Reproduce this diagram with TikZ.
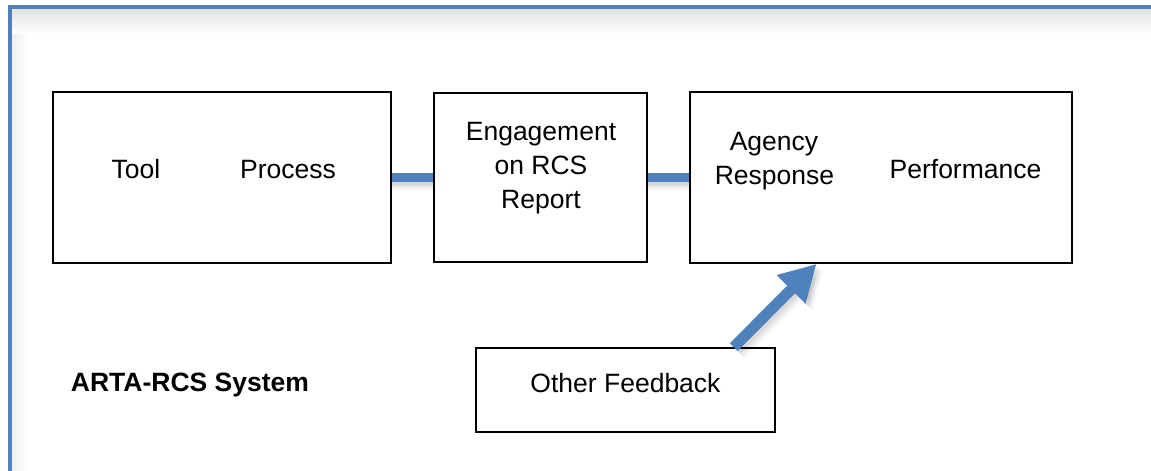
\documentclass[tikz,border=0pt]{standalone}
\usepackage{fontspec}
\setmainfont{Liberation Sans}
\usetikzlibrary{arrows.meta,calc}
\definecolor{frameblue}{RGB}{79,129,189}
\begin{document}
\begin{tikzpicture}[x=1bp,y=-1bp,
  box/.style={draw=black,line width=1.8bp,inner sep=0pt},
  lbl/.style={font=\fontsize{26.5bp}{31bp}\selectfont,inner sep=0pt,anchor=base},
  conn/.style={draw=frameblue,line width=8.5bp},
  connshadow/.style={draw=black,line width=8.5bp,opacity=#1},
  bigarrow/.style={draw=frameblue,line width=11bp,-{Triangle[width=38bp,length=36bp]}},
  arrowshadow/.style={draw=black,line width=11bp,opacity=#1,-{Triangle[width=38bp,length=36bp]}}]
\useasboundingbox (0,0) rectangle (1151,471);

% soft inner shadow of the outer frame
\shade[left color=black!6,right color=white] (12,9) rectangle (30,471);
\shade[top color=black!11,bottom color=white] (12,9) rectangle (1151,34);
\draw[frameblue,line width=4bp] (10,7) rectangle (1170,490);

% boxes
\node[box,minimum width=338bp,minimum height=171bp] (b1) at (222,177.5) {};
\node[box,minimum width=213bp,minimum height=169bp] (b2) at (540.5,177.5) {};
\node[box,minimum width=382bp,minimum height=171bp] (b3) at (881,177.5) {};
\node[box,minimum width=299bp,minimum height=84bp] (fb) at (625.5,390) {};

% labels
\node[lbl] (tool) at (136,179) {Tool};
\node[lbl] (proc) at (288,179) {Process};
\node[lbl] (eng1) at (541,140.5) {Engagement};
\node[lbl] (eng2) at (541,175) {on RCS};
\node[lbl] (eng3) at (541,209) {Report};
\node[lbl] (ag1) at (774,150.5) {Agency};
\node[lbl] (ag2) at (774.5,185) {Response};
\node[lbl] (perf) at (965.5,179) {Performance};
\node[lbl] (fbt) at (625.5,393) {Other Feedback};
\node[lbl,font=\fontsize{26.5bp}{31bp}\selectfont\bfseries] (sys) at (190,392) {ARTA-RCS System};

% connectors with soft shadows
\foreach \o/\a in {3/0.07,5/0.05,7/0.035,9/0.02}{
  \draw[connshadow=\a] ($(b1.east)+(0,\o)$) -- ($(b2.west)+(0,\o)$);
  \draw[connshadow=\a] ($(b2.east)+(0,\o)$) -- ($(b3.west)+(0,\o)$);
}
\draw[conn] (b1.east) -- (b2.west);
\draw[conn] (b2.east) -- (b3.west);

% feedback arrow
\coordinate (tail) at ($(fb.north west)!0.86!(fb.north east)$);
\coordinate (tip) at ($(b3.south west)!0.332!(b3.south east)$);
\foreach \o/\a in {3/0.07,5/0.05,7/0.03}{
  \draw[arrowshadow=\a] ($(tail)+(\o,\o)$) -- ($(tip)+(\o,\o)$);
}
\draw[bigarrow] (tail) -- (tip);
\end{tikzpicture}
\end{document}
